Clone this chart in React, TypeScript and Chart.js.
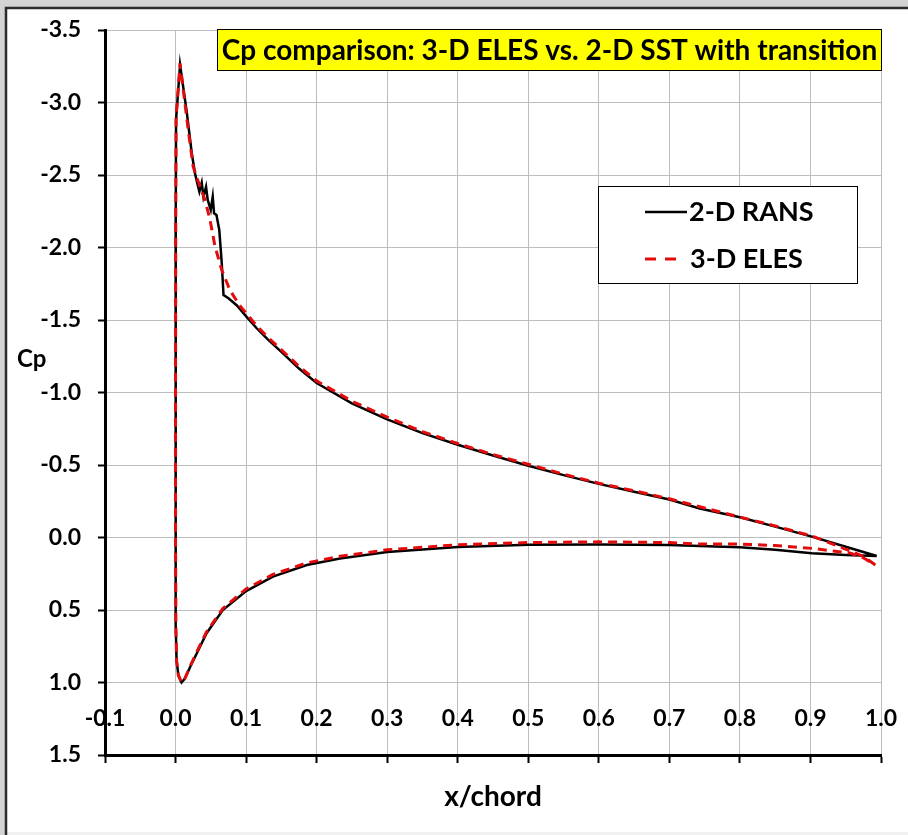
import React, { useEffect, useRef } from 'react';
import { Chart, registerables } from 'chart.js';

Chart.register(...registerables);

const FONT = 'Lato, "Open Sans", "DejaVu Sans", sans-serif';

const CHART_TITLE = 'Cp comparison: 3-D ELES vs. 2-D SST with transition';
const X_TITLE = 'x/chord';
const Y_TITLE = 'Cp';
const SERIES_NAMES = ['2-D RANS', '3-D ELES'];

// 2-D RANS: loop from trailing edge along suction side to the leading edge,
// then back along the pressure side to the trailing edge.
const ransX = [
  0.994, 0.95, 0.902, 0.85, 0.80, 0.743, 0.70, 0.65, 0.60, 0.55, 0.50, 0.45, 0.40, 0.35,
  0.30, 0.25, 0.20, 0.175, 0.15, 0.13, 0.115, 0.101, 0.087, 0.075, 0.068, 0.0655, 0.062,
  0.058, 0.0546, 0.0527, 0.0499, 0.0456, 0.0432, 0.0395, 0.0371, 0.0338, 0.032, 0.0276,
  0.023, 0.016, 0.0064, 0.0007, 0.0003, 0.0, 0.0, 0.0005, 0.0015, 0.004, 0.0085, 0.013,
  0.021, 0.03, 0.044, 0.067, 0.10, 0.138, 0.186, 0.233, 0.30, 0.40, 0.50, 0.60, 0.70,
  0.743, 0.80, 0.85, 0.902, 0.95, 0.994,
];
const ransCp = [
  0.128, 0.064, -0.006, -0.075, -0.14, -0.20, -0.262, -0.315, -0.37, -0.43, -0.495, -0.565,
  -0.64, -0.72, -0.815, -0.925, -1.065, -1.165, -1.28, -1.37, -1.443, -1.52, -1.6, -1.65,
  -1.672, -1.891, -2.121, -2.224, -2.236, -2.35, -2.259, -2.328, -2.419, -2.35, -2.447,
  -2.385, -2.42, -2.51, -2.65, -2.93, -3.26, -2.88, -2.2, -1.0, 0.0, 0.6, 0.85, 0.95, 1.0,
  0.975, 0.89, 0.8, 0.66, 0.5, 0.37, 0.27, 0.19, 0.145, 0.1, 0.065, 0.05, 0.048, 0.052,
  0.059, 0.068, 0.085, 0.109, 0.12, 0.128,
];

// 3-D ELES: same traversal order.
const elesX = [
  0.992, 0.975, 0.941, 0.902, 0.85, 0.80, 0.743, 0.70, 0.65, 0.60, 0.55, 0.50, 0.45, 0.40,
  0.35, 0.30, 0.25, 0.20, 0.175, 0.15, 0.13, 0.115, 0.091, 0.077, 0.0655, 0.056, 0.0489,
  0.0418, 0.0347, 0.025, 0.018, 0.011, 0.0064, 0.0008, 0.0003, 0.0, 0.0, 0.0005, 0.0015,
  0.004, 0.0085, 0.013, 0.021, 0.03, 0.044, 0.067, 0.10, 0.138, 0.186, 0.233, 0.30, 0.40,
  0.50, 0.60, 0.70, 0.743, 0.80, 0.85, 0.902, 0.956, 0.975, 0.992,
];
const elesCp = [
  0.19, 0.13, 0.063, -0.01, -0.08, -0.141, -0.212, -0.267, -0.322, -0.375, -0.437, -0.505,
  -0.572, -0.648, -0.73, -0.83, -0.94, -1.08, -1.18, -1.295, -1.385, -1.46, -1.6, -1.707,
  -1.845, -2.006, -2.19, -2.328, -2.419, -2.557, -2.81, -3.086, -3.27, -2.9, -2.2, -1.0,
  0.0, 0.6, 0.85, 0.95, 1.0, 0.975, 0.885, 0.79, 0.65, 0.49, 0.355, 0.255, 0.175, 0.13,
  0.085, 0.05, 0.035, 0.03, 0.035, 0.045, 0.045, 0.055, 0.075, 0.107, 0.14, 0.19,
];

const toPoints = (xs: number[], ys: number[]) => xs.map((x, i) => ({ x, y: ys[i] }));

const RANS_COLOR = '#000000';
const ELES_COLOR = '#e30b0b';

const decorations = {
  id: 'decorations',
  beforeDraw(chart: any) {
    const { ctx, width, height } = chart;
    ctx.save();
    ctx.fillStyle = '#d3d3d3';
    ctx.fillRect(0, 0, width, height);
    ctx.fillStyle = '#ffffff';
    ctx.fillRect(7, 9, width - 7, height - 12);
    ctx.fillStyle = '#f0f0f0';
    ctx.fillRect(7, height - 3, width - 7, 3);
    ctx.strokeStyle = '#2b2b2b';
    ctx.lineWidth = 2.5;
    ctx.beginPath();
    ctx.moveTo(6, height);
    ctx.lineTo(6, 8);
    ctx.lineTo(width, 8);
    ctx.stroke();
    ctx.restore();
  },
  afterDraw(chart: any) {
    const { ctx } = chart;
    ctx.save();

    // title box
    ctx.fillStyle = '#ffff00';
    ctx.fillRect(217, 29, 665, 42);
    ctx.strokeStyle = '#000';
    ctx.lineWidth = 1;
    ctx.strokeRect(217.5, 29.5, 664, 41);
    ctx.fillStyle = '#000';
    ctx.font = `bold 28px ${FONT}`;
    ctx.textAlign = 'center';
    ctx.textBaseline = 'middle';
    ctx.fillText(CHART_TITLE, 549.5, 51);

    // legend
    ctx.fillStyle = '#fff';
    ctx.fillRect(598, 186, 260, 98);
    ctx.strokeStyle = '#000';
    ctx.lineWidth = 1;
    ctx.strokeRect(598.5, 186.5, 259, 97);

    ctx.lineWidth = 2.5;
    ctx.strokeStyle = RANS_COLOR;
    ctx.beginPath();
    ctx.moveTo(645, 212);
    ctx.lineTo(687, 212);
    ctx.stroke();

    ctx.lineWidth = 3;
    ctx.strokeStyle = ELES_COLOR;
    ctx.setLineDash([11, 9]);
    ctx.beginPath();
    ctx.moveTo(645, 259);
    ctx.lineTo(677, 259);
    ctx.stroke();
    ctx.setLineDash([]);

    ctx.fillStyle = '#000';
    ctx.font = `bold 27px ${FONT}`;
    ctx.textAlign = 'left';
    ctx.textBaseline = 'middle';
    ctx.fillText(SERIES_NAMES[0], 689, 212);
    ctx.fillText(SERIES_NAMES[1], 690, 259);

    // horizontal y-axis title
    ctx.font = `bold 24px ${FONT}`;
    ctx.textBaseline = 'alphabetic';
    ctx.fillText(Y_TITLE, 17, 367);

    ctx.restore();
  },
};

const tickFont = { family: FONT, size: 23, weight: 'bold' as const };

export default function App() {
  const ref = useRef<HTMLCanvasElement>(null);

  useEffect(() => {
    const canvas = ref.current;
    if (!canvas) return;
    const chart = new Chart(canvas, {
      type: 'scatter',
      data: {
        datasets: [
          {
            label: SERIES_NAMES[1],
            data: toPoints(elesX, elesCp),
            showLine: true,
            borderColor: ELES_COLOR,
            backgroundColor: ELES_COLOR,
            borderWidth: 3,
            borderDash: [9, 6],
            pointRadius: 0,
            fill: false,
            order: 0,
          },
          {
            label: SERIES_NAMES[0],
            data: toPoints(ransX, ransCp),
            showLine: true,
            borderColor: RANS_COLOR,
            backgroundColor: RANS_COLOR,
            borderWidth: 2.5,
            pointRadius: 0,
            fill: false,
            order: 1,
          },
        ],
      },
      options: {
        responsive: false,
        animation: false,
        events: [],
        layout: { padding: { top: 30, right: 27, left: 0, bottom: 0 } },
        plugins: {
          legend: { display: false },
          title: { display: false },
          tooltip: { enabled: false },
        },
        scales: {
          x: {
            type: 'linear',
            position: 'bottom',
            min: -0.1,
            max: 1.0,
            ticks: {
              stepSize: 0.1,
              autoSkip: false,
              maxRotation: 0,
              mirror: true,
              padding: 23,
              color: '#000',
              font: tickFont,
              callback: (v: any) => Number(v).toFixed(1),
            },
            grid: { color: '#bdbdbd', lineWidth: 1, tickColor: '#000', tickWidth: 2, tickLength: 8 },
            border: { color: '#000', width: 3 },
            title: {
              display: true,
              text: X_TITLE,
              color: '#000',
              font: { family: FONT, size: 28, weight: 'bold' },
              padding: { top: 0, bottom: 21 },
            },
            afterFit: (s: any) => {
              s.height = 80;
              s.paddingLeft = 0;
              s.paddingRight = 0;
            },
          },
          y: {
            type: 'linear',
            min: -3.5,
            max: 1.5,
            reverse: true,
            ticks: {
              stepSize: 0.5,
              padding: 17,
              color: '#000',
              font: tickFont,
              callback: (v: any) => Number(v).toFixed(1),
            },
            grid: { color: '#bdbdbd', lineWidth: 1, tickColor: '#000', tickWidth: 2, tickLength: 7 },
            border: { color: '#000', width: 3 },
            afterFit: (s: any) => {
              s.width = 105;
              s.paddingTop = 0;
              s.paddingBottom = 0;
            },
          },
        },
      },
      plugins: [decorations],
    } as any);
    return () => chart.destroy();
  }, []);

  return (
    <div style={{ position: 'absolute', left: 0, top: 0, width: 908, height: 835 }}>
      <canvas ref={ref} width={908} height={835} style={{ display: 'block', width: 908, height: 835 }} />
    </div>
  );
}
